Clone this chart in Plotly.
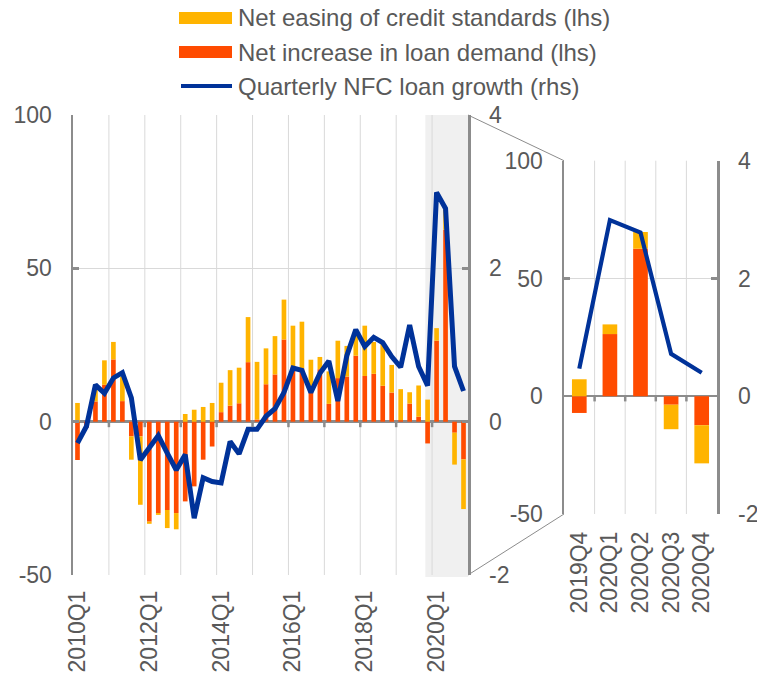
import plotly.graph_objects as go

# ---------------- data ----------------
quarters = [
    "2010Q1", "2010Q2", "2010Q3", "2010Q4", "2011Q1", "2011Q2", "2011Q3", "2011Q4",
    "2012Q1", "2012Q2", "2012Q3", "2012Q4", "2013Q1", "2013Q2", "2013Q3", "2013Q4",
    "2014Q1", "2014Q2", "2014Q3", "2014Q4", "2015Q1", "2015Q2", "2015Q3", "2015Q4",
    "2016Q1", "2016Q2", "2016Q3", "2016Q4", "2017Q1", "2017Q2", "2017Q3", "2017Q4",
    "2018Q1", "2018Q2", "2018Q3", "2018Q4", "2019Q1", "2019Q2", "2019Q3", "2019Q4",
    "2020Q1", "2020Q2", "2020Q3", "2020Q4",
]
# Net increase in loan demand (lhs)
demand = [
    -12.5, -2.0, 6.6, 12.0, 20.3, 6.7, -4.8, -4.8,
    -32.6, -29.8, -28.8, -29.8, -26.0, -21.1, -12.4, -8.1,
    3.1, 5.2, 6.0, 19.4, 0.7, 12.2, 15.4, 26.8,
    18.0, 17.4, 9.5, 17.1, 5.8, 14.2, 14.7, 21.5,
    14.9, 15.6, 11.7, 9.5, 0.5, 5.9, 1.6, -7.1,
    26.4, 62.6, -3.6, -12.3,
]
# Net easing of credit standards (lhs)
standards = [
    6.1, 0.0, 5.5, 8.0, 5.7, 8.0, -7.6, -22.3,
    -0.7, -0.6, -5.9, -5.3, 2.5, 3.9, 4.8, 6.1,
    9.6, 11.6, 11.6, 14.7, 18.8, 11.7, 12.5, 13.0,
    13.3, 15.2, 10.7, 4.0, 10.6, 12.2, 10.0, 7.5,
    16.4, 10.4, 13.9, 9.0, 10.1, 3.7, 10.2, 7.2,
    4.1, 7.1, -10.4, -16.2,
]
# Quarterly NFC loan growth (rhs)
growth = [
    -0.28, -0.06, 0.48, 0.37, 0.57, 0.64, 0.31, -0.50,
    -0.34, -0.18, -0.41, -0.63, -0.43, -1.26, -0.73, -0.78,
    -0.80, -0.26, -0.42, -0.10, -0.10, 0.07, 0.17, 0.38,
    0.70, 0.67, 0.38, 0.63, 0.79, 0.27, 0.86, 1.20,
    0.98, 1.10, 1.03, 0.85, 0.71, 1.26, 0.72, 0.47,
    2.99, 2.78, 0.72, 0.40,
]
main_labels = ["2010Q1", "2012Q1", "2014Q1", "2016Q1", "2018Q1", "2020Q1"]
zoom_quarters = ["2019Q4", "2020Q1", "2020Q2", "2020Q3", "2020Q4"]
lhs_ticks = [-50, 0, 50, 100]
lhs_labels = ["-50", "0", "50", "100"]
rhs_ticks = [-2, 0, 2, 4]
rhs_labels = ["-2", "0", "2", "4"]
legend_names = [
    "Net easing of credit standards (lhs)",
    "Net increase in loan demand (lhs)",
    "Quarterly NFC loan growth (rhs)",
]

# ---------------- style ----------------
YELLOW = "#FFB400"
RED = "#FF4B00"
BLUE = "#003299"
GRID = "#d9d9d9"
AXIS = "#8c8c8c"
TEXT = "#595959"
FONT = "Liberation Sans, Arial, sans-serif"
W, H = 757, 677


def px(x):
    return x / W


def py(y):
    return 1 - y / H


main_x = [px(73), px(468)]
main_y = [py(575), py(115)]
zm_x = [px(564), px(717)]
zm_y = [py(514), py(160.7)]

nz = len(zoom_quarters)
z_demand = demand[-nz:]
z_standards = standards[-nz:]
z_growth = growth[-nz:]

fig = go.Figure()
# main panel
fig.add_bar(x=quarters, y=demand, name=legend_names[1], marker=dict(color=RED, line=dict(width=0)),
            width=0.52, xaxis="x", yaxis="y")
fig.add_bar(x=quarters, y=standards, name=legend_names[0], marker=dict(color=YELLOW, line=dict(width=0)),
            width=0.52, xaxis="x", yaxis="y")
fig.add_scatter(x=quarters, y=growth, name=legend_names[2], mode="lines",
                line=dict(color=BLUE, width=5), xaxis="x", yaxis="y2")
# zoom panel
fig.add_bar(x=zoom_quarters, y=z_demand, marker=dict(color=RED, line=dict(width=0)),
            width=0.48, xaxis="x3", yaxis="y3")
fig.add_bar(x=zoom_quarters, y=z_standards, marker=dict(color=YELLOW, line=dict(width=0)),
            width=0.48, xaxis="x3", yaxis="y3")
fig.add_scatter(x=zoom_quarters, y=z_growth, mode="lines",
                line=dict(color=BLUE, width=4.2), xaxis="x3", yaxis="y4")

tickfont = dict(family=FONT, size=23, color=TEXT)


def yaxis(domain, anchor, rng, vals, text, side="left", overlaying=None, grid=True, zero=True):
    d = dict(domain=domain, anchor=anchor, range=rng, tickmode="array", tickvals=vals,
             ticktext=text, side=side, showgrid=grid, gridcolor=GRID, gridwidth=1,
             zeroline=zero, zerolinecolor=AXIS, zerolinewidth=2.5,
             showline=True, linecolor=AXIS, linewidth=2.5, mirror=False,
             ticks="inside", ticklen=6, tickwidth=2.5, tickcolor=AXIS,
             tickfont=tickfont, ticklabelstandoff=14, automargin=False, fixedrange=True)
    if overlaying:
        d["overlaying"] = overlaying
        d.pop("domain")
    return d


fig.update_layout(
    width=W, height=H,
    margin=dict(l=0, r=0, t=0, b=0, pad=0, autoexpand=False),
    paper_bgcolor="white", plot_bgcolor="rgba(0,0,0,0)",
    barmode="relative", showlegend=False, hovermode=False,
    font=dict(family=FONT, color=TEXT),
    xaxis=dict(domain=main_x, anchor="y", type="category", categoryorder="array",
               categoryarray=quarters, range=[-0.5, len(quarters) - 0.5],
               tickmode="array", tickvals=main_labels, ticktext=main_labels,
               tickangle=-90, ticks="", showgrid=False, showline=False, zeroline=False,
               tickfont=tickfont, ticklabelstandoff=10, automargin=False, fixedrange=True),
    yaxis=yaxis(main_y, "x", [-50, 100], lhs_ticks, lhs_labels),
    yaxis2=yaxis(main_y, "x", [-2, 4], rhs_ticks, rhs_labels, side="right", overlaying="y",
                 grid=False, zero=False),
    xaxis3=dict(domain=zm_x, anchor="y3", type="category", categoryorder="array",
                categoryarray=zoom_quarters, range=[-0.5, nz - 0.5],
                tickangle=-90, ticks="", showgrid=False, showline=False, zeroline=False,
                tickfont=tickfont, ticklabelstandoff=12, automargin=False, fixedrange=True),
    yaxis3=yaxis(zm_y, "x3", [-50, 100], lhs_ticks, lhs_labels),
    yaxis4=yaxis(zm_y, "x3", [-2, 4], rhs_ticks, rhs_labels, side="right", overlaying="y3",
                 grid=False, zero=False),
)

shapes = []
# shaded zoom window on main panel
shapes.append(dict(type="rect", xref="x", yref="paper", x0=len(quarters) - nz - 0.25,
                   x1=len(quarters) - 0.5, y0=py(577), y1=main_y[1],
                   fillcolor="#f0f0f0", line=dict(width=0), layer="below"))
# vertical gridlines every 4 quarters at category boundaries + ticks on zero line
for i in range(4, len(quarters), 4):
    shapes.append(dict(type="line", xref="x", yref="paper", x0=i - 0.5, x1=i - 0.5,
                       y0=main_y[0], y1=main_y[1], line=dict(color=GRID, width=1), layer="between"))
    shapes.append(dict(type="line", xref="x", yref="y", x0=i - 0.5, x1=i - 0.5,
                       y0=0, y1=-1.8, line=dict(color=AXIS, width=2.5), layer="above"))
for i in range(1, nz):
    shapes.append(dict(type="line", xref="x3", yref="paper", x0=i - 0.5, x1=i - 0.5,
                       y0=zm_y[0], y1=zm_y[1], line=dict(color=GRID, width=1), layer="between"))
    shapes.append(dict(type="line", xref="x3", yref="y3", x0=i - 0.5, x1=i - 0.5,
                       y0=0, y1=-2.2, line=dict(color=AXIS, width=2.5), layer="above"))
# connector lines
shapes.append(dict(type="line", xref="paper", yref="paper", x0=main_x[1], y0=main_y[1],
                   x1=zm_x[0], y1=zm_y[1], line=dict(color=AXIS, width=1)))
shapes.append(dict(type="line", xref="paper", yref="paper", x0=main_x[1], y0=main_y[0],
                   x1=zm_x[0], y1=zm_y[0], line=dict(color=AXIS, width=1)))
# legend swatches
shapes.append(dict(type="rect", xref="paper", yref="paper", x0=px(179), x1=px(232),
                   y0=py(24), y1=py(12), fillcolor=YELLOW, line=dict(width=0)))
shapes.append(dict(type="rect", xref="paper", yref="paper", x0=px(179), x1=px(232),
                   y0=py(58), y1=py(46), fillcolor=RED, line=dict(width=0)))
shapes.append(dict(type="line", xref="paper", yref="paper", x0=px(181), x1=px(232),
                   y0=py(86), y1=py(86), line=dict(color=BLUE, width=4)))
fig.update_layout(shapes=shapes)

for name, yc in zip(legend_names, [18, 52, 86]):
    fig.add_annotation(xref="paper", yref="paper", x=px(236), y=py(yc), text=name,
                       showarrow=False, xanchor="left", yanchor="middle",
                       font=dict(family=FONT, size=24, color=TEXT))

fig.write_html("out.html", config={"displayModeBar": False, "staticPlot": True},
               post_script="document.body.style.margin='0px';document.body.style.padding='0px';")
